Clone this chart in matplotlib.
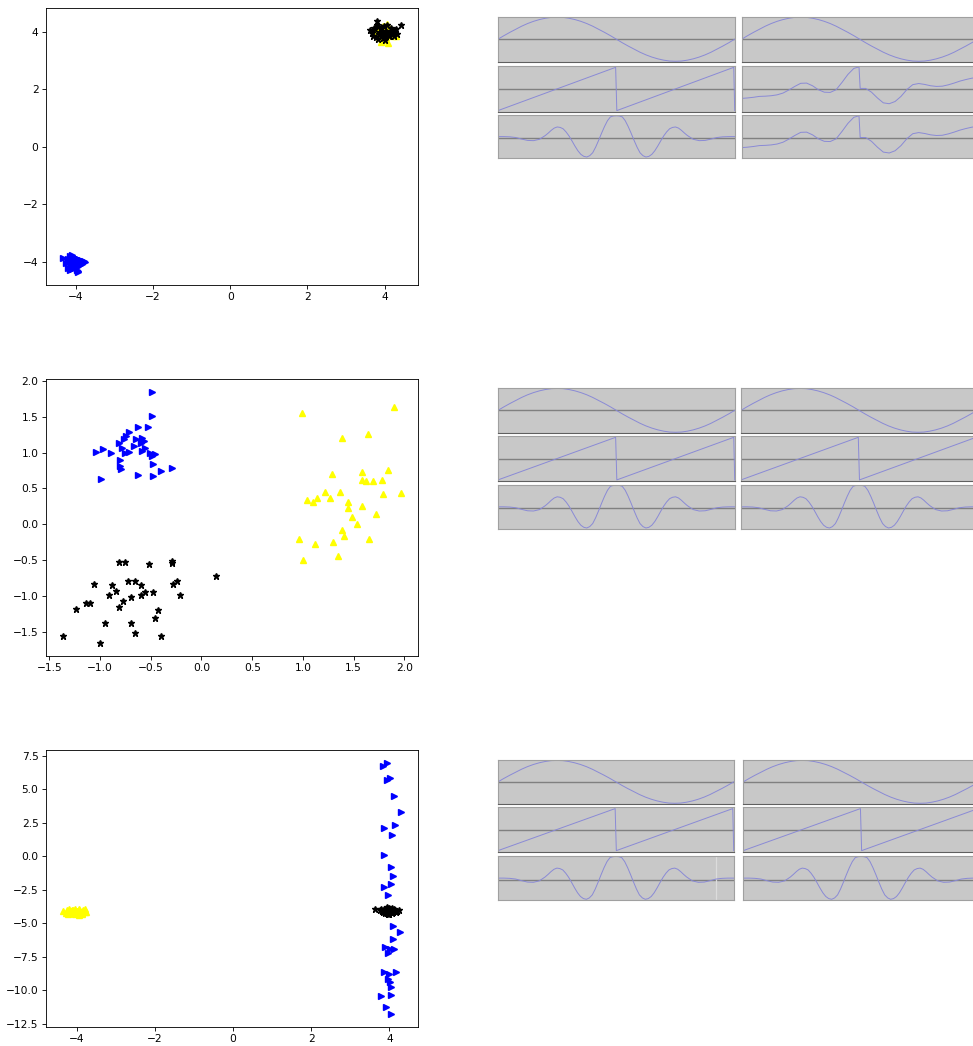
import matplotlib
matplotlib.use("Agg")
import matplotlib.pyplot as plt

W, H = 973, 1046

# ---------------- scatter data ----------------
# Row 1
blue1_x = [-4.34, -4.22, -4.15, -4.10, -4.05, -4.00, -3.95, -3.88, -3.80, -3.76, -4.25, -4.18, -4.12, -4.06, -3.98, -3.92, -3.85,
           -4.20, -4.14, -4.08, -4.02, -3.96, -3.90, -4.16, -4.10, -4.04, -3.98, -3.94, -4.05, -3.97, -3.95, -4.12, -4.02]
blue1_y = [-3.86, -3.90, -3.80, -3.76, -3.82, -3.86, -3.88, -3.92, -3.95, -4.00, -4.05, -4.00, -3.95, -3.98, -4.00, -4.03, -4.06,
           -4.20, -4.15, -4.10, -4.12, -4.15, -4.10, -4.26, -4.24, -4.22, -4.26, -4.30, -4.05, -4.18, -4.36, -4.10, -3.92]
yellow1_x = [3.90, 4.08, 4.30, 3.85, 3.95, 4.05, 4.15, 4.20, 3.75, 3.80, 4.00, 4.10, 3.88, 3.98, 4.12, 4.25, 3.70,
             3.92, 4.02, 4.18, 3.82, 3.95, 4.05, 3.85, 4.00, 4.10, 3.78, 3.90, 4.15, 4.22, 3.96, 4.06, 3.86]
yellow1_y = [3.64, 3.60, 3.83, 3.78, 3.72, 3.80, 3.88, 3.95, 3.90, 4.00, 3.92, 4.05, 4.10, 4.02, 3.98, 3.90, 4.05,
             3.85, 4.15, 4.08, 3.95, 4.20, 3.88, 4.12, 3.78, 3.95, 4.18, 3.98, 4.02, 3.85, 3.70, 4.25, 3.92]
black1_x = [3.81, 4.43, 4.29, 3.62, 3.68, 3.74, 3.80, 3.86, 3.92, 3.98, 4.04, 4.10, 4.16, 4.22, 4.27, 4.32, 3.70,
            3.78, 3.88, 3.95, 4.00, 4.06, 4.12, 4.18, 4.24, 3.76, 3.84, 3.94, 4.02, 4.12, 3.90, 4.00, 4.20]
black1_y = [4.38, 4.23, 4.10, 4.06, 3.96, 4.14, 4.24, 3.90, 4.08, 4.18, 4.02, 3.92, 4.12, 3.96, 4.06, 3.92, 3.86,
            3.82, 3.98, 3.78, 3.88, 4.22, 3.84, 4.02, 3.86, 4.10, 3.74, 3.96, 3.80, 3.92, 4.16, 3.72, 4.00]

# Row 2
blue2_x = [-0.49, -0.49, -0.625, -0.53, -0.71, -0.74, -0.764, -0.817, -0.648, -0.585, -0.569, -0.784, -0.668, -0.559,
           -0.582, -1.038, -0.972, -0.896, -0.757, -0.717, -0.51, -0.46, -0.483, -0.807, -0.473, -0.807, -0.79, -0.40,
           -0.295, -0.625, -0.473, -0.985, -0.60]
blue2_y = [1.85, 1.505, 1.356, 1.356, 1.29, 1.235, 1.19, 1.127, 1.19, 1.197, 1.155, 1.057, 1.085, 1.067,
           1.015, 1.01, 1.053, 0.992, 0.987, 1.006, 0.987, 0.973, 0.95, 0.894, 0.833, 0.815, 0.773, 0.74,
           0.791, 0.693, 0.67, 0.633, 1.13]
yellow2_x = [0.993, 1.901, 1.383, 1.637, 1.290, 1.581, 1.578, 1.620, 1.693, 1.775, 1.838, 1.217, 1.363, 1.039,
             1.095, 1.142, 1.264, 1.439, 1.439, 1.581, 1.792, 1.967, 1.719, 1.488, 1.528, 1.383, 1.406, 0.960,
             1.118, 1.297, 1.653, 1.003, 1.350]
yellow2_y = [1.557, 1.631, 1.197, 1.253, 0.703, 0.735, 0.623, 0.605, 0.609, 0.619, 0.763, 0.455, 0.455, 0.343,
             0.315, 0.367, 0.367, 0.315, 0.227, 0.259, 0.427, 0.441, 0.147, 0.101, 0.007, -0.086, -0.165, -0.203,
             -0.273, -0.254, -0.212, -0.497, -0.45]
black2_x = [-1.365, -1.001, -1.233, -1.137, -1.097, -1.054, -0.949, -0.912, -0.883, -0.846, -0.817, -0.75, -0.817,
            -0.770, -0.724, -0.658, -0.691, -0.698, -0.658, -0.592, -0.599, -0.559, -0.519, -0.473, -0.460, -0.427,
            -0.394, -0.295, -0.288, -0.285, -0.242, -0.212, 0.144]
black2_y = [-1.565, -1.663, -1.187, -1.098, -1.098, -0.828, -1.383, -0.987, -0.851, -0.935, -0.534, -0.524, -1.159,
            -1.07, -0.795, -0.795, -1.01, -1.383, -1.514, -0.851, -0.987, -0.949, -0.557, -0.944, -1.304, -1.196,
            -1.565, -0.515, -0.543, -0.832, -0.786, -0.991, -0.716]

# Row 3
blue3_x = [3.93, 3.83, 4.02, 3.95, 4.13, 4.30, 4.15, 3.86, 4.06, 3.85, 4.03, 4.10, 4.03, 3.87, 3.96, 4.10,
           4.28, 4.10, 3.89, 4.13, 3.97, 4.02, 3.85, 4.17, 4.00, 3.97, 4.02, 4.03, 3.79, 4.03, 3.91, 4.03]
blue3_y = [7.00, 6.75, 5.84, 5.71, 4.54, 3.33, 2.36, 2.13, 1.61, 0.12, -0.77, -1.49, -2.04, -2.29, -2.91, -5.17,
           -5.66, -6.16, -6.76, -6.91, -7.20, -6.95, -8.62, -8.67, -8.82, -9.14, -9.39, -9.74, -10.43, -10.38, -11.23, -11.80]
yellow3_x = [-4.36, -4.25, -4.20, -4.15, -4.10, -4.05, -4.00, -3.95, -3.90, -3.85, -3.80, -3.76, -4.28, -4.22, -4.16,
             -4.10, -4.04, -3.98, -3.92, -3.86, -3.80, -4.18, -4.12, -4.06, -4.00, -3.94, -3.88, -4.24, -4.08, -3.96,
             -3.84, -4.02, -3.90]
yellow3_y = [-4.10, -4.00, -3.92, -4.05, -4.20, -3.95, -4.10, -3.90, -4.15, -4.00, -3.95, -4.12, -4.22, -4.15, -4.25,
             -4.02, -4.15, -4.25, -4.08, -4.22, -4.18, -4.10, -3.98, -4.30, -4.20, -4.00, -4.30, -4.28, -4.12, -4.35,
             -4.05, -4.05, -4.18]
black3_x = [3.63, 3.75, 3.80, 3.85, 3.90, 3.95, 4.00, 4.05, 4.10, 4.15, 4.20, 4.25, 3.78, 3.83, 3.88, 3.93, 3.98,
            4.03, 4.08, 4.13, 4.18, 3.86, 3.92, 3.97, 4.02, 4.07, 4.12, 3.95, 4.00, 4.05, 3.90, 4.10, 4.00]
black3_y = [-3.95, -4.00, -4.10, -3.92, -4.15, -3.85, -4.05, -3.90, -4.12, -3.98, -4.05, -4.02, -3.95, -4.18, -4.00,
            -4.22, -3.88, -4.15, -3.82, -4.08, -4.18, -4.05, -3.95, -4.28, -4.00, -4.20, -3.92, -3.78, -4.32, -4.10,
            -4.25, -4.00, -3.95]

scatter_rows = [
    (blue1_x, blue1_y, yellow1_x, yellow1_y, black1_x, black1_y),
    (blue2_x, blue2_y, yellow2_x, yellow2_y, black2_x, black2_y),
    (blue3_x, blue3_y, yellow3_x, yellow3_y, black3_x, black3_y),
]

# ---------------- waveform data ----------------
sine_t = [0.000, 0.025, 0.050, 0.075, 0.100, 0.125, 0.150, 0.175, 0.200, 0.225, 0.250, 0.275, 0.300, 0.325,
          0.350, 0.375, 0.400, 0.425, 0.450, 0.475, 0.500, 0.525, 0.550, 0.575, 0.600, 0.625, 0.650, 0.675,
          0.700, 0.725, 0.750, 0.775, 0.800, 0.825, 0.850, 0.875, 0.900, 0.925, 0.950, 0.975, 1.000]
sine_v = [0.00, 0.16, 0.31, 0.45, 0.59, 0.71, 0.81, 0.89, 0.95, 0.99, 1.00, 0.99, 0.95, 0.89, 0.81, 0.71,
          0.59, 0.45, 0.31, 0.16, 0.00, -0.16, -0.31, -0.45, -0.59, -0.71, -0.81, -0.89, -0.95, -0.99, -1.00,
          -0.99, -0.95, -0.89, -0.81, -0.71, -0.59, -0.45, -0.31, -0.16, 0.00]
saw_t = [0.000, 0.497, 0.502, 0.996, 1.000]
saw_v = [-0.97, 0.98, -0.97, 0.98, -0.97]
wavelet_t = [0.000, 0.025, 0.050, 0.075, 0.100, 0.125, 0.150, 0.175, 0.200, 0.2125, 0.225, 0.2375, 0.250, 0.2625,
             0.275, 0.2875, 0.300, 0.3125, 0.325, 0.3375, 0.350, 0.3625, 0.375, 0.3875, 0.400, 0.4125, 0.425,
             0.4375, 0.450, 0.4625, 0.475, 0.4875, 0.500, 0.5125, 0.525, 0.5375, 0.550, 0.5625, 0.575, 0.5875,
             0.600, 0.6125, 0.625, 0.6375, 0.650, 0.6625, 0.675, 0.6875, 0.700, 0.7125, 0.725, 0.7375, 0.750,
             0.7625, 0.775, 0.7875, 0.800, 0.825, 0.850, 0.875, 0.900, 0.925, 0.950, 0.975, 1.000]
wavelet_v = [0.07, 0.07, 0.06, 0.03, -0.04, -0.10, -0.11, -0.05, 0.12, 0.23, 0.35, 0.45, 0.50, 0.48,
             0.42, 0.28, 0.10, -0.12, -0.35, -0.56, -0.72, -0.81, -0.84, -0.78, -0.65, -0.40, -0.10,
             0.22, 0.52, 0.78, 0.95, 0.99, 1.00, 0.99, 0.95, 0.78, 0.52, 0.22, -0.10, -0.40,
             -0.65, -0.78, -0.84, -0.81, -0.72, -0.56, -0.35, -0.12, 0.10, 0.28, 0.42, 0.48, 0.50,
             0.45, 0.35, 0.23, 0.12, -0.05, -0.11, -0.10, -0.04, 0.03, 0.06, 0.07, 0.07]
mix_t = [0.000, 0.025, 0.050, 0.075, 0.100, 0.125, 0.150, 0.175, 0.200, 0.225, 0.250, 0.275, 0.300, 0.325,
         0.350, 0.375, 0.400, 0.425, 0.450, 0.475, 0.497, 0.502, 0.525, 0.550, 0.575, 0.600, 0.625, 0.650,
         0.675, 0.700, 0.725, 0.750, 0.775, 0.800, 0.825, 0.850, 0.875, 0.900, 0.925, 0.950, 0.975, 1.000]
mix_v = [-0.42, -0.40, -0.37, -0.33, -0.32, -0.30, -0.26, -0.18, -0.04, 0.12, 0.26, 0.27, 0.15, -0.03, -0.14,
         -0.15, -0.03, 0.30, 0.66, 0.93, 1.00, 0.03, 0.03, -0.14, -0.40, -0.62, -0.66, -0.56, -0.33, -0.02,
         0.20, 0.25, 0.21, 0.15, 0.12, 0.13, 0.19, 0.27, 0.36, 0.43, 0.49, 0.53]

SINE = (sine_t, sine_v)
SAW = (saw_t, saw_v)
WAV = (wavelet_t, wavelet_v)
MIX = (mix_t, mix_v)

wave_rows = [
    ([SINE, SAW, WAV], [SINE, MIX, MIX]),
    ([SINE, SAW, WAV], [SINE, SAW, WAV]),
    ([SINE, SAW, WAV], [SINE, SAW, WAV]),
]

# ---------------- layout (pixel boxes) ----------------
def rect(l, t, r, b):
    return [l / W, 1 - b / H, (r - l) / W, (b - t) / H]

scatter_boxes = [(46, 8, 418, 285), (46, 379, 418, 656), (46, 750, 418, 1027)]
col_boxes = [((498, 734.7), (741.7, 977.7)),
             ((498, 734.7), (741.0, 977.0)),
             ((498, 733.7), (743.3, 979.0))]
panel_ys = [[(16.7, 61.7), (66.0, 111.7), (115.3, 157.7)],
            [(388.0, 432.7), (436.0, 481.0), (484.7, 528.7)],
            [(760.0, 803.7), (807.3, 851.7), (856.0, 900.0)]]
panel_ylims = [(-1.02, 1.02), (-1.02, 1.04), (-0.87, 1.02)]

S = 0.77
plt.rcParams.update({
    "font.size": 10 * S,
    "axes.linewidth": 0.8 * S,
    "xtick.major.size": 3.5 * S,
    "ytick.major.size": 3.5 * S,
    "xtick.major.width": 0.8 * S,
    "ytick.major.width": 0.8 * S,
    "xtick.major.pad": 3.5 * S,
    "ytick.major.pad": 3.5 * S,
})

fig = plt.figure(figsize=(W / 100, H / 100), dpi=100)
MS = 4.8

for box, (bx, by, yx, yy, kx, ky) in zip(scatter_boxes, scatter_rows):
    ax = fig.add_axes(rect(*box))
    ax.plot(bx, by, ">", color="blue", ms=MS, linestyle="none")
    ax.plot(yx, yy, "^", color="yellow", ms=MS, linestyle="none")
    ax.plot(kx, ky, "*", color="black", ms=MS, linestyle="none")

PANEL_BG = "#c8c8c8"
WAVE_COL = "#8a8ad6"
MID_COL = "#808080"

for r, (cols, ys) in enumerate(zip(col_boxes, panel_ys)):
    for c, (x0, x1) in enumerate(cols):
        sigs = wave_rows[r][c]
        for p, (y0, y1) in enumerate(ys):
            ax = fig.add_axes(rect(x0, y0, x1, y1))
            ax.set_facecolor(PANEL_BG)
            ax.axhline(0, color=MID_COL, lw=1.0, zorder=1)
            tt, vv = sigs[p]
            ax.plot(tt, vv, color=WAVE_COL, lw=0.7, zorder=2)
            if r == 2 and c == 0 and p == 2:
                ax.axvline(0.924, color="#dcdcdc", lw=0.9, zorder=1)
            ax.set_xlim(0, 1)
            ax.set_ylim(*panel_ylims[p])
            ax.set_xticks([])
            ax.set_yticks([])
            for name, sp in ax.spines.items():
                sp.set_linewidth(0.8)
                sp.set_color("#a0a0a0")
            if p < 2:
                ax.spines["bottom"].set_color("#606060")

fig.savefig("out.png", dpi=100)
